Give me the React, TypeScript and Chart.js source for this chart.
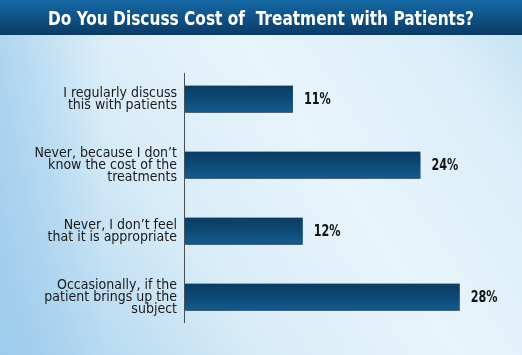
import React, { useEffect, useRef } from "react";
import { Chart, registerables } from "chart.js";

Chart.register(...registerables);

const TITLE = "Do You Discuss Cost of  Treatment with Patients?";
const categories: string[][] = [
  ["I regularly discuss", "this with patients"],
  ["Never, because I don\u2019t", "know the cost of the", "treatments"],
  ["Never, I don\u2019t feel", "that it is appropriate"],
  ["Occasionally, if the", "patient brings up the", "subject"],
];
const values = [11, 24, 12, 28];
const valueLabels = ["11%", "24%", "12%", "28%"];

const FONT = "'Liberation Sans Narrow', 'DejaVu Sans Condensed', 'Roboto', sans-serif";

export default function App() {
  const ref = useRef<HTMLCanvasElement | null>(null);

  useEffect(() => {
    document.body.style.margin = "0";
    const canvas = ref.current!;
    const bgPlugin = {
      id: "bg",
      beforeDraw(chart: any) {
        const { ctx, width, height } = chart;
        ctx.save();
        const g = ctx.createLinearGradient(0, height, width, 0);
        g.addColorStop(0, "#a4cfec");
        g.addColorStop(0.35, "#d8ecf8");
        g.addColorStop(0.6, "#e8f4fb");
        g.addColorStop(0.85, "#dbeef9");
        g.addColorStop(1, "#c2e0f3");
        ctx.fillStyle = g;
        ctx.fillRect(0, 0, width, height);
        const h = ctx.createLinearGradient(0, 0, width, 0);
        h.addColorStop(0, "rgba(150,200,235,0.55)");
        h.addColorStop(0.2, "rgba(150,200,235,0)");
        h.addColorStop(1, "rgba(150,200,235,0)");
        ctx.fillStyle = h;
        ctx.fillRect(0, 0, width, height);
        const t = ctx.createLinearGradient(0, 0, 0, 35);
        t.addColorStop(0, "#1669a6");
        t.addColorStop(1, "#0a3b64");
        ctx.fillStyle = t;
        ctx.fillRect(0, 0, width, 35);
        ctx.fillStyle = "#ffffff";
        ctx.font = "bold 19px " + FONT;
        ctx.textAlign = "center";
        ctx.textBaseline = "alphabetic";
        ctx.translate(width / 2, 25);
        ctx.scale(0.9, 1);
        ctx.fillText(TITLE, 0, 0);
        ctx.restore();
      },
      beforeDatasetDraw(chart: any) {
        const ctx = chart.ctx;
        ctx.save();
        ctx.shadowColor = "rgba(0,20,40,0.4)";
        ctx.shadowOffsetY = 3;
        ctx.shadowOffsetX = 1;
        ctx.shadowBlur = 4;
      },
      afterDatasetDraw(chart: any) {
        chart.ctx.restore();
      },
      afterDatasetsDraw(chart: any) {
        const { ctx } = chart;
        const meta = chart.getDatasetMeta(0);
        ctx.save();
        ctx.strokeStyle = "#4a4f55";
        ctx.lineWidth = 1;
        ctx.beginPath();
        ctx.moveTo(184.5, 73);
        ctx.lineTo(184.5, 323);
        ctx.stroke();
        ctx.fillStyle = "#141414";
        ctx.font = "bold 16px " + FONT;
        ctx.textAlign = "left";
        ctx.textBaseline = "middle";
        meta.data.forEach((el: any, i: number) => {
          ctx.save();
          ctx.translate(el.x + 11, el.y + 1);
          ctx.scale(0.78, 1);
          ctx.fillText(valueLabels[i], 0, 0);
          ctx.restore();
        });
        ctx.restore();
      },
    };

    const chart = new Chart(canvas, {
      type: "bar",
      data: {
        labels: categories,
        datasets: [
          {
            data: values,
            backgroundColor: (c: any) => {
              const y = c.chart.scales?.y;
              const cy = y ? y.getPixelForValue(c.dataIndex) : NaN;
              if (!Number.isFinite(cy)) return "#0d4a78";
              const g = c.chart.ctx.createLinearGradient(0, cy - 13, 0, cy + 13);
              g.addColorStop(0, "#0b3c62");
              g.addColorStop(0.5, "#0d4a76");
              g.addColorStop(1, "#125c8e");
              return g;
            },
            borderColor: "#083150",
            borderWidth: { top: 0, left: 0, right: 0, bottom: 1 },
            borderSkipped: false,
            barThickness: 27,
          },
        ],
      },
      options: {
        indexAxis: "y",
        animation: false,
        responsive: false,
        layout: { padding: { top: 66, bottom: 25, left: 0, right: 23 } },
        plugins: { legend: { display: false }, tooltip: { enabled: false }, title: { display: false } },
        scales: {
          x: { display: false, min: 0, max: 32 },
          y: {
            afterFit: (s: any) => {
              s.width = 185;
            },
            grid: { display: false, drawTicks: false },
            border: { display: false },
            ticks: {
              padding: 8,
              color: "#1a1a1a",
              font: { family: FONT, size: 14, lineHeight: 0.86 },
            },
          },
        },
      },
      plugins: [bgPlugin],
    } as any);
    return () => chart.destroy();
  }, []);

  return (
    <div style={{ width: 522, height: 355 }}>
      <canvas ref={ref} width={522} height={355} style={{ display: "block" }} />
    </div>
  );
}
